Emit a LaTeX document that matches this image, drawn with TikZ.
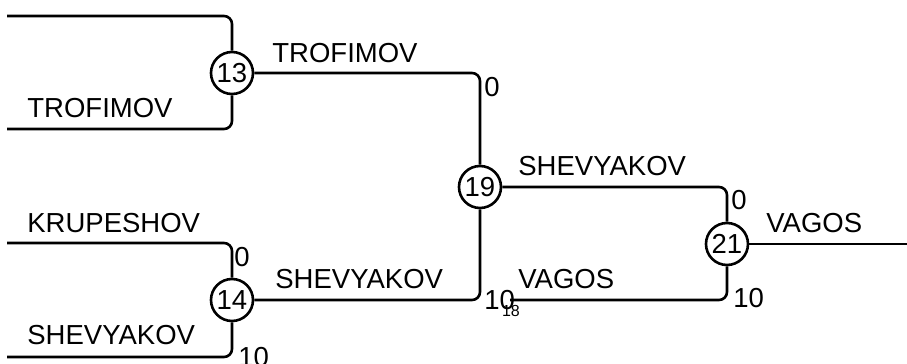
\documentclass[tikz,border=0pt]{standalone}
\usepackage{fontspec}
\setmainfont{Liberation Sans}
\usetikzlibrary{positioning}
\begin{document}
\begin{tikzpicture}[
  x=0.5pt, y=-0.5pt,
  font=\fontsize{13.75}{16}\selectfont,
  match/.style={draw, circle, fill=white, line width=1.3pt, minimum size=21pt, inner sep=0pt},
  wire/.style={line width=1.3pt, rounded corners=4pt},
  team/.style={anchor=base west, inner sep=0pt},
  score/.style={inner sep=0pt},
]
  \useasboundingbox (0,0) rectangle (907,364);
  \node[match] (m13) at (232,73) {13};
  \node[match] (m14) at (232,300) {14};
  \node[match] (m19) at (480,187) {19};
  \node[match] (m21) at (727,244) {21};
  \coordinate (t1) at (7,16);
  \coordinate (t2) at (7,129);
  \coordinate (t3) at (7,243);
  \coordinate (t4) at (7,357);
  \coordinate (t18) at (510,300);
  \coordinate (win) at (907,244);
  % first round
  \draw[wire] (t1) -| (m13);  \draw[wire] (t2) -| (m13);
  \draw[wire] (t3) -| (m14);  \draw[wire] (t4) -| (m14);
  % later rounds
  \draw[wire] (m13) -| (m19);  \draw[wire] (m14) -| (m19);
  \draw[wire] (m19) -| (m21);  \draw[wire] (t18) -| (m21);
  \draw[wire] (m21) -- (win);
  \node[team] (n2) at (27,117) {TROFIMOV};
  \node[team] (n3) at (27,232) {KRUPESHOV};
  \node[team] (n4) at (27,344) {SHEVYAKOV};
  \node[team] (w13) at (272,62) {TROFIMOV};
  \node[team] (w14) at (275,288) {SHEVYAKOV};
  \node[team] (w19) at (518,175) {SHEVYAKOV};
  \node[team] (n18) at (518,288) {VAGOS};
  \node[team] (w21) at (766,232) {VAGOS};
  \node[score, anchor=north west] (s19a) at (484,77) {0};
  \node[score, anchor=west] (s19b) at (484,300) {10};
  \node[score, anchor=north west] (s14a) at (234,247) {0};
  \node[score, anchor=west] (s14b) at (238,357) {10};
  \node[score, anchor=north west] (s21a) at (731,190) {0};
  \node[score, anchor=west] (s21b) at (733,298) {10};
  \node[score, font=\fontsize{8}{9}\selectfont] (id18) at (511,311) {18};
\end{tikzpicture}
\end{document}
